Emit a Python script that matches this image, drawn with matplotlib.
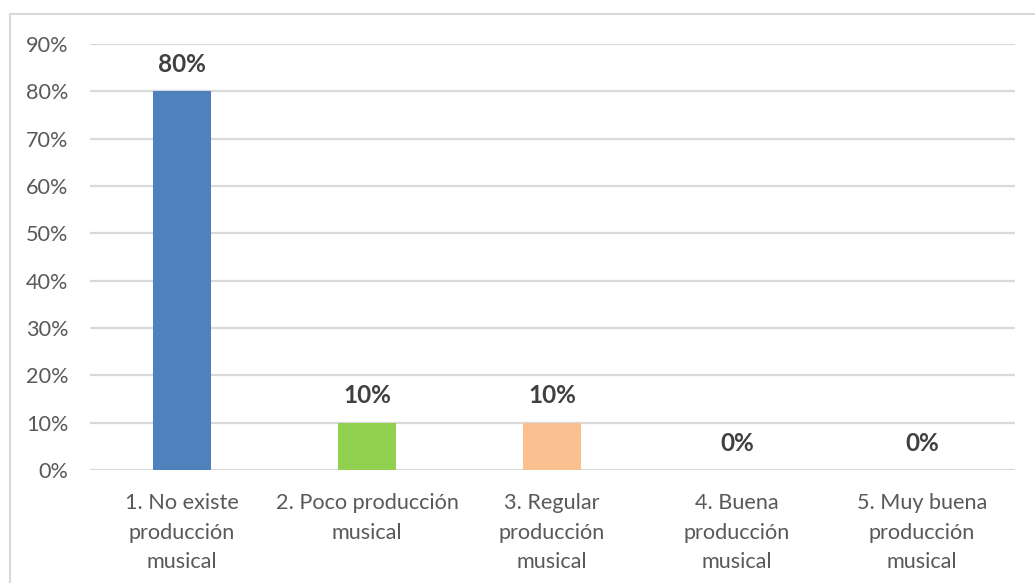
import matplotlib
matplotlib.use("Agg")
import matplotlib.pyplot as plt
from matplotlib.patches import Rectangle

categories = ["1. No existe\nproducción\nmusical", "2. Poco producción\nmusical",
              "3. Regular\nproducción\nmusical", "4. Buena\nproducción\nmusical",
              "5. Muy buena\nproducción\nmusical"]
values = [80, 10, 10, 0, 0]
colors = ["#4F81BD", "#92D050", "#FAC090", "#4F81BD", "#4F81BD"]
yticks = [0, 10, 20, 30, 40, 50, 60, 70, 80, 90]

plt.rcParams['font.family'] = ['Lato', 'DejaVu Sans']

W, H = 1035, 583
fig = plt.figure(figsize=(W / 100, H / 100), dpi=100)
fig.patches.append(Rectangle((10 / W, -0.1), 1.2, (H - 14) / H + 0.1, transform=fig.transFigure,
                             fill=False, edgecolor="#D9D9D9", linewidth=1.5))
ax = fig.add_axes([89.5 / W, (H - 470) / H, (1014.5 - 89.5) / W, (470 - 44) / H])

x = list(range(len(categories)))
ax.bar(x, values, width=0.315, color=colors, zorder=3)
ax.set_xlim(-0.5, len(categories) - 0.5)
ax.set_ylim(0, 90)
ax.set_yticks(yticks)
ax.set_yticklabels([f"{v}%" for v in yticks], fontsize=15.6, color="#595959")
ax.set_xticks(x)
ax.set_xticklabels(categories, fontsize=15.6, color="#595959", linespacing=1.6)
ax.tick_params(axis='both', length=0)
ax.tick_params(axis='y', pad=15)
ax.tick_params(axis='x', pad=16.5)
ax.grid(axis='y', color="#D9D9D9", linewidth=1.6, zorder=0)
for s in ax.spines.values():
    s.set_visible(False)

for xi, v in zip(x, values):
    ax.annotate(f"{v}%", (xi, v), xytext=(0, 14), textcoords="offset points",
                ha="center", va="baseline", fontsize=17.5, fontweight="bold", color="#404040")

fig.savefig("out.png", dpi=100)
